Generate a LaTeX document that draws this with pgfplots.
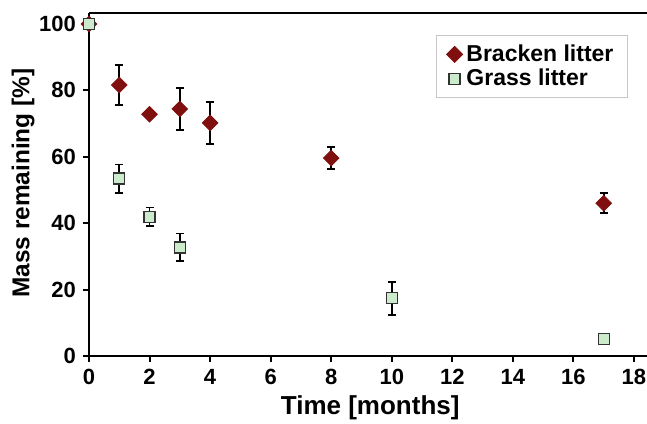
\documentclass[border=0pt]{standalone}
\usepackage{fontspec}
\setmainfont{Liberation Sans}
\usepackage{pgfplots}
\pgfplotsset{compat=1.18}

\definecolor{bracken}{RGB}{128,16,16}
\definecolor{grass}{RGB}{204,235,204}

\begin{document}
\begin{tikzpicture}
    \begin{axis}[
            name=ax,
            width=279pt,
            height=171.5pt,
            scale only axis,
            xmin=0, xmax=18.43,
            ymin=0, ymax=103.3,
            xtick={0,2,...,18},
            ytick={0,20,...,100},
            axis x line*=bottom,
            axis y line*=left,
            axis line style={line width=1.1pt, -},
            tick align=outside,
            major tick length=3pt,
            tick style={line width=1pt, black},
            /pgf/number format/assume math mode=true,
            tick label style={font=\fontsize{11}{13}\selectfont\bfseries},
            xlabel={Time [months]},
            ylabel={Mass remaining [\%]},
            xlabel style={font=\fontsize{13}{15}\selectfont\bfseries,
                at={(axis description cs:0.504,-0.152)}, anchor=center},
            ylabel style={font=\fontsize{12.2}{14}\selectfont\bfseries,
                at={(axis description cs:-0.118,0.504)}, anchor=center},
            legend style={
                at={(0.966,0.936)}, anchor=north east,
                draw=black!22, line width=0.6pt,
                font=\fontsize{11.5}{13}\selectfont\bfseries,
                inner xsep=5pt, inner ysep=2.5pt, row sep=-1.5pt
            },
            legend cell align=left,
            clip=false
        ]

        % Bracken litter: mean and error
        \addplot[
            only marks,
            mark=square*,
            mark size=2.75pt,
            mark options={rotate=45, fill=bracken, draw=bracken},
            error bars/.cd,
            y dir=both, y explicit,
            error mark=|,
            error bar style={line width=0.9pt, black},
            error mark options={line width=0.9pt, black, mark size=2pt}
        ] table[x=t, y=m, y error=e] {
            t   m     e
            0   100   0
            1   81.6  6.0
            2   72.8  1.0
            3   74.4  6.3
            4   70.2  6.4
            8   59.6  3.3
            17  46.0  3.0
        };
        \addlegendentry{Bracken litter}

        % Grass litter: mean and error
        \addplot[
            only marks,
            mark=square*,
            mark size=2.75pt,
            mark options={fill=grass, draw=black!80, line width=0.7pt},
            error bars/.cd,
            y dir=both, y explicit,
            error mark=|,
            error bar style={line width=0.9pt, black},
            error mark options={line width=0.9pt, black, mark size=2pt}
        ] table[x=t, y=m, y error=e] {
            t   m     e
            0   100   0
            1   53.4  4.3
            2   41.9  2.8
            3   32.7  4.2
            10  17.4  5.0
            17  5.1   0.5
        };
        \addlegendentry{Grass litter}

    \end{axis}

    \draw[line width=1.1pt] (ax.north west) -- (ax.north east);

    \pgfresetboundingbox
    \useasboundingbox ([xshift=-44.5pt, yshift=-33.5pt]ax.south west)
        rectangle ([yshift=6.5pt]ax.north east);
\end{tikzpicture}
\end{document}
